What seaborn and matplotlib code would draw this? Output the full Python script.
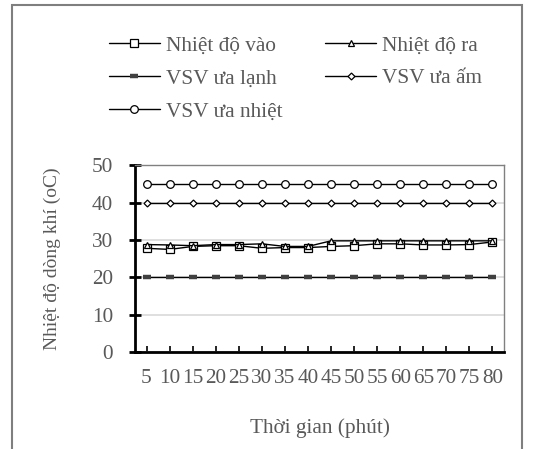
import matplotlib
matplotlib.use("Agg")
import matplotlib.pyplot as plt
import seaborn as sns
import pandas as pd
from matplotlib.patches import Rectangle

times = ["5", "10", "15", "20", "25", "30", "35", "40", "45", "50", "55", "60", "65", "70", "75", "80"]
t_in = [27.8, 27.5, 28.3, 28.5, 28.5, 27.8, 28.0, 28.0, 28.3, 28.5, 29.0, 29.0, 28.7, 28.7, 28.8, 29.5]
t_out = [28.8, 28.7, 28.5, 28.8, 28.8, 29.0, 28.3, 28.3, 29.8, 29.8, 29.8, 29.8, 29.8, 29.8, 29.8, 29.8]
vsv_lanh = [20] * 16
vsv_am = [40] * 16
vsv_nhiet = [45] * 16
names = ["Nhiệt độ vào", "Nhiệt độ ra", "VSV ưa lạnh", "VSV ưa ấm", "VSV ưa nhiệt"]
yticks = [0, 10, 20, 30, 40, 50]

sns.set_theme(style="white")
plt.rcParams['font.family'] = ['Liberation Serif', 'DejaVu Serif']
gray = "#595959"
fs = 15.3

fig = plt.figure(figsize=(5.34, 4.49), dpi=100)
ax = fig.add_axes([135/534, 1-352/449, (504-135)/534, (352-165.5)/449])

styles = [
    dict(marker="s", markersize=5.5, markerfacecolor="white", markeredgecolor="black", markeredgewidth=0.9),
    dict(marker="^", markersize=5, markerfacecolor="white", markeredgecolor="black", markeredgewidth=0.9),
    dict(marker="_", markersize=5.5, markeredgecolor="#404040", markeredgewidth=3.2),
    dict(marker="D", markersize=3.5, markerfacecolor="white", markeredgecolor="black", markeredgewidth=0.9),
    dict(marker="o", markersize=5.5, markerfacecolor="white", markeredgecolor="black", markeredgewidth=0.9),
]
series = [t_in, t_out, vsv_lanh, vsv_am, vsv_nhiet]
for name, vals, st in zip(names, series, styles):
    df = pd.DataFrame({"t": times, "v": vals})
    sns.lineplot(data=df, x="t", y="v", ax=ax, color="black", linewidth=1.0,
                 label=name, sort=False, **st)

ax.set_xlim(-0.5, 15.5)
ax.set_ylim(0, 50)
ax.set_yticks(yticks)
ax.set_yticklabels([str(v) for v in yticks])
ax.grid(axis="y", color="#d9d9d9", linewidth=1.2)
ax.set_axisbelow(True)
for s in ["left", "bottom"]:
    ax.spines[s].set_color("black")
    ax.spines[s].set_linewidth(2)
for s in ["top", "right"]:
    ax.spines[s].set_color("#808080")
    ax.spines[s].set_linewidth(1)
ax.tick_params(axis="y", direction="inout", length=8, width=2, color="black",
               labelsize=fs, labelcolor=gray, pad=12, left=True)
ax.tick_params(axis="x", direction="in", length=4, width=1.2, color="black",
               labelsize=fs, labelcolor=gray, pad=12, bottom=True)
ax.set_xlabel("Thời gian (phút)", fontsize=fs, color=gray, labelpad=22)
ax.set_ylabel("Nhiệt độ dòng khí (oC)", fontsize=14, color=gray, labelpad=22)

handles, labels = ax.get_legend_handles_labels()
order = [0, 2, 4, 1, 3]
ax.legend([handles[i] for i in order], [labels[i] for i in order], ncol=2, loc="upper left",
          bbox_to_anchor=(100/534, 1-27/449),
          bbox_transform=fig.transFigure, frameon=False, fontsize=fs,
          labelcolor=gray, handlelength=2.4, handletextpad=0.3, columnspacing=2.0,
          labelspacing=0.62, borderaxespad=0)

fig.patches.append(Rectangle((12/534, -0.1), (522-12)/534, 1.1 - 5/449, transform=fig.transFigure,
                             fill=False, edgecolor="#7f7f7f", linewidth=1.5))
fig.savefig("out.png", dpi=100)
